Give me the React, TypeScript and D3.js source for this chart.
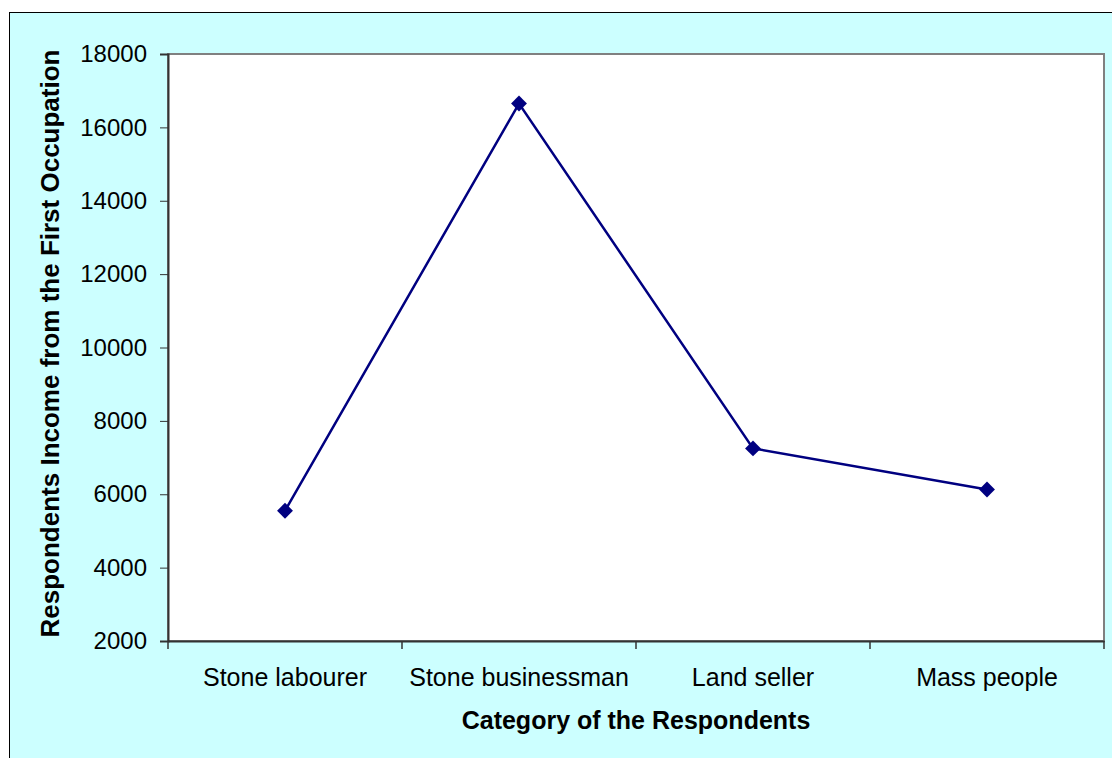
import React, { useEffect, useRef } from 'react';
import * as d3 from 'd3';

const categories = ['Stone labourer', 'Stone businessman', 'Land seller', 'Mass people'];
const income = [5550, 16650, 7250, 6130];
const yTicks = [2000, 4000, 6000, 8000, 10000, 12000, 14000, 16000, 18000];

const App = () => {
  const svgRef = useRef<SVGSVGElement>(null);

  useEffect(() => {
    const W = 1112;
    const H = 758;
    const margin = { top: 54, right: 8, bottom: 117, left: 168 };
    const width = W - margin.left - margin.right;
    const height = H - margin.top - margin.bottom;
    const font = '"Liberation Sans", Arial, sans-serif';

    const svg = d3.select(svgRef.current);
    svg.selectAll('*').remove();

    // outer chart area
    svg.append('rect')
      .attr('x', 9.5).attr('y', 12.5)
      .attr('width', W + 20).attr('height', H + 20)
      .attr('fill', '#ccffff')
      .attr('stroke', '#000').attr('stroke-width', 1);

    const g = svg.append('g')
      .attr('transform', `translate(${margin.left},${margin.top})`);

    const x = d3.scaleBand<string>().domain(categories).range([0, width]);
    const y = d3.scaleLinear().domain([2000, 18000]).range([height, 0]);

    // plot area
    g.append('rect')
      .attr('width', width).attr('height', height)
      .attr('fill', '#fff')
      .attr('stroke', '#808080').attr('stroke-width', 2);

    const yAxis = g.append('g')
      .call(d3.axisLeft(y).tickValues(yTicks).tickSize(8).tickPadding(13).tickFormat(d3.format('d')));
    yAxis.select('.domain').attr('stroke', '#333').attr('stroke-width', 2);
    yAxis.selectAll('.tick line').attr('stroke', '#333');
    yAxis.selectAll('text')
      .attr('font-family', font).attr('font-size', 24).attr('fill', '#000');

    const xAxis = g.append('g')
      .attr('transform', `translate(0,${height})`)
      .call(d3.axisBottom(x).tickSize(0).tickPadding(27));
    xAxis.select('.domain').attr('stroke', '#333').attr('stroke-width', 2);
    xAxis.selectAll('text')
      .attr('font-family', font).attr('font-size', 25).attr('fill', '#000');

    // category separator ticks
    const bounds = categories.map(c => x(c) as number).concat([width]);
    g.append('g').selectAll('line')
      .data(bounds)
      .enter().append('line')
      .attr('x1', d => d).attr('x2', d => d)
      .attr('y1', height).attr('y2', height + 8)
      .attr('stroke', '#333').attr('stroke-width', 1.5);

    const cx = (c: string) => (x(c) as number) + x.bandwidth() / 2;

    const line = d3.line<number>()
      .x((d, i) => cx(categories[i]))
      .y(d => y(d));

    g.append('path')
      .datum(income)
      .attr('fill', 'none')
      .attr('stroke', '#000080')
      .attr('stroke-width', 2.5)
      .attr('d', line);

    g.selectAll('.dot')
      .data(income)
      .enter().append('path')
      .attr('class', 'dot')
      .attr('d', d3.symbol().type(d3.symbolDiamond2).size(160)())
      .attr('transform', (d, i) => `translate(${cx(categories[i])},${y(d)})`)
      .attr('fill', '#000080');

    // axis titles
    svg.append('text')
      .attr('x', margin.left + width / 2).attr('y', 729)
      .attr('text-anchor', 'middle')
      .attr('font-family', font).attr('font-size', 25).attr('font-weight', 'bold')
      .text('Category of the Respondents');

    svg.append('text')
      .attr('transform', `translate(59,${margin.top + height / 2 - 4}) rotate(-90)`)
      .attr('text-anchor', 'middle')
      .attr('font-family', font).attr('font-size', 26).attr('font-weight', 'bold')
      .text('Respondents Income from the First Occupation');
  }, []);

  return (
    <svg ref={svgRef} width={1112} height={758}
      style={{ position: 'absolute', left: 0, top: 0, background: '#fff' }} />
  );
};

export default App;
